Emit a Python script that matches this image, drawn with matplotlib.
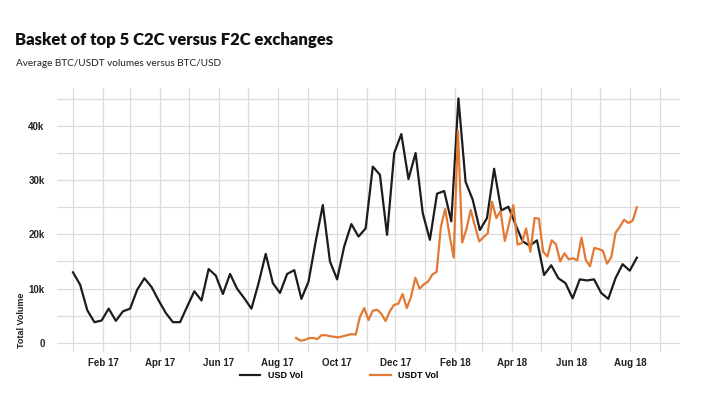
import matplotlib
matplotlib.use("Agg")
import matplotlib.pyplot as plt
import matplotlib.dates as mdates
from matplotlib.ticker import FixedLocator, FuncFormatter
import pandas as pd
import numpy as np

# ---------------- data ----------------
title = "Basket of top 5 C2C versus F2C exchanges"
subtitle = "Average BTC/USDT volumes versus BTC/USD"
y_label = "Total Volume"
series_names = ["USD Vol", "USDT Vol"]

usd_start, usd_end, usd_n = "2017-01-01", "2018-08-08", 80
usd_vol = [13.0, 10.7, 6.0, 3.8, 4.1, 6.3, 4.05, 5.8, 6.3, 9.8,
           11.9, 10.3, 7.8, 5.5, 3.8, 3.8, 6.7, 9.5, 7.8, 13.6,
           12.4, 9.0, 12.7, 9.95, 8.2, 6.3, 11.0, 16.4, 11.0, 9.2,
           12.7, 13.4, 8.1, 11.3, 18.7, 25.4, 15.0, 11.7, 17.8, 21.9,
           19.6, 21.1, 32.5, 31.0, 19.9, 35.0, 38.5, 30.2, 35.0, 23.9,
           19.0, 27.5, 28.0, 22.4, 45.1, 29.7, 26.4, 20.8, 23.0, 32.1,
           24.4, 25.1, 21.8, 18.7, 17.9, 18.9, 12.5, 14.3, 11.9, 11.0,
           8.2, 11.7, 11.5, 11.7, 9.2, 8.1, 11.9, 14.5, 13.3, 15.7]

usdt_start, usdt_end, usdt_n = "2017-08-20", "2018-08-08", 81
usdt_vol = [0.9, 0.4, 0.5, 0.85, 0.9, 0.7, 1.4, 1.4, 1.2, 1.1,
            1.0, 1.2, 1.4, 1.6, 1.5, 4.8, 6.4, 4.2, 5.9, 6.1,
            5.4, 4.0, 5.8, 7.0, 7.2, 9.0, 6.4, 8.5, 12.0, 10.0,
            10.8, 11.3, 12.6, 13.1, 21.4, 24.7, 20.0, 15.7, 39.1, 18.5,
            21.0, 24.5, 21.5, 18.7, 19.5, 20.2, 26.0, 23.0, 24.3, 18.8,
            22.0, 25.4, 18.1, 18.4, 21.1, 16.8, 23.0, 22.9, 16.8, 15.9,
            18.9, 18.2, 15.0, 16.5, 15.4, 15.6, 15.2, 19.4, 15.3, 14.1,
            17.5, 17.3, 17.0, 14.6, 15.8, 20.3, 21.4, 22.7, 22.1, 22.5, 25.0]

y_ticks = [0, 10000, 20000, 30000, 40000]

# ---------------- plot ----------------
usd_dates = pd.date_range(usd_start, usd_end, periods=usd_n)
usdt_dates = pd.date_range(usdt_start, usdt_end, periods=usdt_n)
usd = np.array(usd_vol) * 1000
usdt = np.array(usdt_vol) * 1000

fig = plt.figure(figsize=(7.2, 3.99), dpi=100)
ax = fig.add_axes([57 / 720, 1 - 352 / 399, 623 / 720, 264 / 399])

black = "#1c1c1c"
orange = "#e27a35"
ax.plot(usd_dates, usd, color=black, lw=1.6, label=series_names[0], zorder=3)
ax.plot(usdt_dates, usdt, color=orange, lw=1.6, label=series_names[1], zorder=3)

ax.set_xlim(pd.Timestamp("2016-12-15 10:00"), pd.Timestamp("2018-09-21 16:00"))
ax.set_ylim(-1700, 47000)

ax.xaxis.set_major_locator(mdates.MonthLocator(bymonth=[2, 4, 6, 8, 10, 12]))
ax.xaxis.set_major_formatter(mdates.DateFormatter("%b %y"))
ax.xaxis.set_minor_locator(mdates.MonthLocator())
ax.yaxis.set_major_locator(FixedLocator(y_ticks))
ax.yaxis.set_minor_locator(FixedLocator(np.arange(0, 46000, 5000)))
ax.yaxis.set_major_formatter(FuncFormatter(lambda v, p: "0" if v == 0 else f"{int(v/1000)}k"))

gc = "#dcdcdc"
ax.grid(True, which="both", axis="both", color=gc, lw=0.9, zorder=0)
for s in ax.spines.values():
    s.set_visible(False)
ax.tick_params(which="both", length=0)
ax.tick_params(axis="x", pad=4)
ax.tick_params(axis="y", pad=9)
fam = ["Liberation Sans", "DejaVu Sans"]
for t in ax.get_xticklabels() + ax.get_yticklabels():
    t.set_fontfamily(fam)
    t.set_fontweight("bold")
    t.set_fontsize(7)
    t.set_color("#222222")

fig.text(22 / 720, 1 - 320 / 399, y_label, rotation=90, ha="center", va="center",
         color="#222222", family=fam, weight="bold", size=6.5)

fig.text(15 / 720, 1 - 45.5 / 399, title, fontsize=12.0, weight="heavy",
         family=["Lato", "DejaVu Sans"], color="#111111", va="baseline")
fig.text(15.5 / 720, 1 - 66 / 399, subtitle, fontsize=7.2,
         family=["Lato", "DejaVu Sans"], color="#222222", va="baseline")

leg = fig.legend(loc="center", bbox_to_anchor=(339 / 720, 1 - 376 / 399), ncol=2,
                 frameon=False, handlelength=2.3, columnspacing=7.5,
                 prop=dict(family=fam, weight="bold", size=6.5))

fig.savefig("out.png", dpi=100, facecolor="white")
